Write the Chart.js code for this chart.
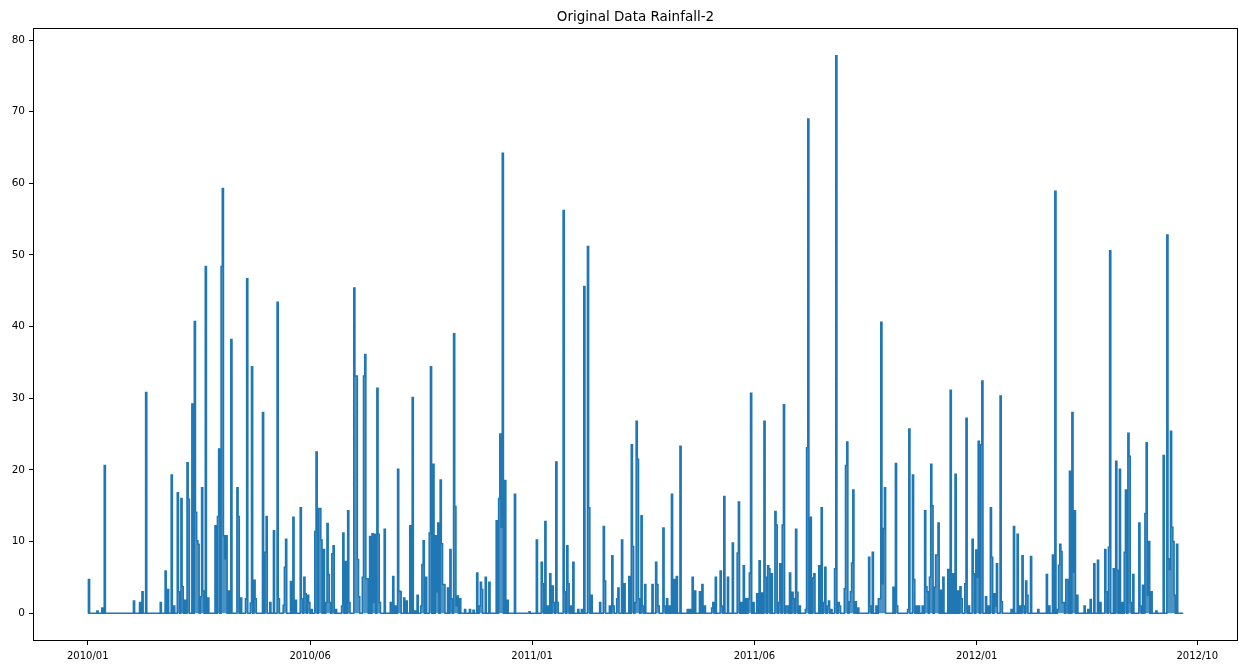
<!DOCTYPE html>
<html>
<head>
<meta charset="utf-8">
<script src="https://cdn.jsdelivr.net/npm/chart.js@4.4.1/dist/chart.umd.min.js"></script>
<style>
  html, body { margin: 0; padding: 0; background: #ffffff; }
  #wrap { width: 1239px; height: 667px; position: relative; }
</style>
</head>
<body>
<div id="wrap"><canvas id="c" width="1239" height="667"></canvas></div>
<script>
// Day index counted from 2010/01/01 (daily series, 0..900)
const dayCount = 901;
const chartTitle = 'Original Data Rainfall-2';
// Days with rainfall (index) and rainfall amount
const rainDay = [1,8,12,14,38,43,45,48,60,64,66,69,71,74,75,77,78,80,82,83,86,88,89,90,91,93,94,95,97,99,
105,107,108,110,111,112,113,114,116,118,123,124,126,130,131,134,135,137,138,144,146,147,150,153,156,157,161,162,163,167,
169,171,175,176,178,179,181,182,184,187,188,190,191,192,194,196,197,198,199,201,202,204,209,210,212,214,215,219,220,221,
222,223,226,227,228,229,230,232,234,235,236,238,239,240,244,249,251,253,255,256,257,260,262,265,267,269,271,274,275,276,
278,281,282,284,286,287,288,290,291,292,293,296,298,299,301,302,303,304,306,310,314,317,320,322,323,324,327,330,336,338,
339,340,341,343,345,351,363,369,373,374,376,378,380,382,383,385,386,391,392,394,395,397,399,403,406,408,411,412,414,421,
424,425,429,431,432,435,436,439,441,445,447,448,450,451,452,453,455,456,458,464,467,468,469,473,474,476,478,480,482,484,
487,493,495,497,499,503,505,507,513,514,516,520,521,523,526,530,534,535,537,539,541,543,544,545,547,550,552,554,556,557,
559,560,562,565,566,568,569,571,572,574,575,577,579,580,582,583,585,590,591,592,594,596,597,601,603,605,606,608,609,611,
614,615,617,618,622,623,624,626,627,628,629,631,633,642,643,645,648,650,651,652,653,654,655,662,664,665,674,675,678,679,
681,683,686,688,689,690,692,693,694,696,697,698,699,701,703,707,709,711,713,715,717,718,721,722,724,727,728,730,731,732,
734,735,738,740,742,743,745,746,747,750,751,759,761,764,766,768,769,771,772,775,781,788,790,793,795,797,798,799,800,801,
802,804,805,807,809,810,811,813,819,822,824,827,830,832,836,837,839,840,843,845,846,848,850,852,853,855,856,857,859,864,
865,867,869,870,871,872,874,878,884,887,888,889,890,891,892,893,895];
const rainMm = [4.7,0.3,0.7,20.6,1.7,1.5,3.0,30.8,1.5,5.9,3.3,19.3,1.0,16.8,3.0,16.0,3.7,1.8,21.0,15.9,29.2,40.7,14.1,10.1,9.6,2.3,17.5,3.1,48.4,2.1,
12.2,13.5,22.9,48.4,59.3,10.8,7.6,10.8,3.1,38.2,17.5,13.5,2.1,2.0,46.7,1.4,34.4,4.6,2.0,28.0,8.5,13.5,1.5,11.5,43.4,2.0,1.1,6.4,10.3,4.4,
13.4,1.8,14.7,2.0,5.0,2.7,2.5,1.5,0.5,11.4,22.5,14.6,14.6,10.2,8.9,1.5,12.5,5.4,1.5,8.3,9.4,0.5,1.0,11.2,7.2,14.3,1.5,45.4,33.1,33.1,
7.5,2.3,5.0,33.1,36.1,4.8,4.8,10.7,11.1,1.5,11.0,31.4,11.0,1.5,11.7,1.5,5.1,1.0,20.1,3.1,3.0,2.1,1.7,12.2,30.1,0.3,2.5,1.0,6.8,10.1,
5.0,11.2,34.4,20.8,10.8,3.0,12.6,18.6,9.7,4.0,4.0,3.5,8.9,2.0,39.0,14.9,1.0,2.4,2.0,0.5,0.5,0.4,5.6,1.0,4.3,3.3,5.0,4.3,12.9,16.0,
25.0,12.0,64.2,18.5,1.8,16.6,0.2,10.2,7.1,4.1,12.8,1.0,5.5,3.8,1.5,21.1,1.5,56.2,3.0,9.4,4.1,1.0,7.1,0.5,0.5,45.6,51.2,14.7,2.5,1.5,
12.1,4.5,1.0,8.0,1.0,2.0,3.5,10.2,4.1,5.1,23.5,9.3,1.5,26.8,21.5,2.0,13.6,1.0,4.0,4.0,7.1,4.0,1.0,11.9,1.0,2.0,1.0,16.6,4.7,5.1,
23.3,0.5,0.5,5.0,3.1,3.0,4.0,1.0,0.7,1.5,5.0,5.9,1.0,16.3,5.0,9.8,8.4,15.5,1.5,6.6,2.0,2.0,5.6,30.7,1.5,2.7,7.3,2.8,26.8,5.0,
6.6,6.2,5.5,14.2,12.3,1.5,6.9,12.3,29.1,1.0,1.0,5.6,2.9,2.0,11.7,2.9,1.0,0.5,23.1,69.0,13.4,4.9,5.5,6.6,14.7,1.5,6.4,1.0,1.7,0.5,
6.2,77.8,1.5,1.0,3.4,20.6,23.9,1.6,3.0,7.0,17.2,1.6,0.7,7.8,1.0,8.5,1.0,2.0,2.0,40.6,4.1,11.8,17.5,3.6,20.9,1.0,0.5,25.7,19.3,4.7,
1.0,1.0,1.0,14.3,3.7,3.0,5.0,20.8,15.0,3.6,8.1,8.1,12.6,3.2,5.0,6.1,31.1,5.5,19.4,3.1,3.7,2.0,4.1,27.2,1.0,10.3,5.5,8.8,5.0,24.0,
23.5,32.4,2.3,1.0,14.7,7.8,2.7,1.0,6.9,30.3,1.6,0.5,12.1,11.0,1.0,8.0,1.0,4.5,2.5,7.9,0.5,5.4,1.0,8.1,58.9,0.5,6.7,9.6,8.6,1.5,
1.5,4.7,4.7,19.8,28.0,5.7,14.3,2.5,1.0,0.5,1.9,6.9,7.4,1.5,8.9,3.0,9.2,50.6,6.2,21.2,6.0,20.1,1.5,8.5,17.2,25.1,21.9,1.5,5.4,12.6,
1.0,3.9,13.9,23.8,2.5,10.0,3.0,0.3,22.0,52.8,7.6,6.1,25.4,12.0,10.0,2.5,9.6];

const xTickDays = [0, 182.7, 365, 547.7, 730.3, 911.5];
const xTickLabels = ['2010/01', '2010/06', '2011/01', '2011/06', '2012/01', '2012/10'];
const yTickValues = [0, 10, 20, 30, 40, 50, 60, 70, 80];

// Build daily points: dry days stay at 0
const amounts = new Array(dayCount).fill(0);
rainDay.forEach((d, i) => { amounts[d] = rainMm[i]; });
const points = amounts.map((v, i) => ({ x: i, y: v }));

const maxVal = Math.max(...rainMm);
const yPad = maxVal * 0.05;
const xPad = (dayCount - 1) * 0.05;

const framePlugin = {
  id: 'frame',
  afterDatasetsDraw(chart) {
    const a = chart.chartArea, ctx = chart.ctx;
    ctx.save();
    ctx.strokeStyle = '#000';
    ctx.lineWidth = 1;
    ctx.strokeRect(Math.round(a.left) + 0.5, Math.round(a.top) + 0.5,
                   Math.round(a.right - a.left) - 1, Math.round(a.bottom - a.top) - 1);
    // title centred over the plot area (as matplotlib does)
    ctx.fillStyle = '#000';
    ctx.font = '13.5px "DejaVu Sans"';
    ctx.textAlign = 'center';
    ctx.textBaseline = 'middle';
    ctx.fillText(chartTitle, (a.left + a.right) / 2, a.top - 11);
    ctx.restore();
  }
};

new Chart(document.getElementById('c'), {
  type: 'line',
  data: {
    datasets: [{
      data: points,
      borderColor: '#1f77b4',
      backgroundColor: 'rgba(31,119,180,0.8)',
      borderWidth: 1.5,
      pointRadius: 0,
      stepped: 'middle',
      fill: 'origin'
    }]
  },
  options: {
    responsive: false,
    animation: false,
    layout: { padding: { left: 0, right: 1, top: 28, bottom: 0 } },
    plugins: {
      legend: { display: false },
      tooltip: { enabled: false },
      title: { display: false }
    },
    scales: {
      x: {
        type: 'linear',
        min: -xPad,
        max: dayCount - 1 + xPad,
        afterBuildTicks(scale) { scale.ticks = xTickDays.map(v => ({ value: v })); },
        afterFit(scale) { scale.height = 26; },
        ticks: {
          autoSkip: false,
          maxRotation: 0,
          color: '#000',
          padding: 5,
          font: { family: 'DejaVu Sans', size: 10 },
          callback: (v, i) => xTickLabels[i]
        },
        grid: { display: true, drawOnChartArea: false, drawTicks: true, tickLength: 4, color: '#000', lineWidth: 1 },
        border: { display: false }
      },
      y: {
        type: 'linear',
        min: -yPad,
        max: maxVal + yPad,
        afterBuildTicks(scale) { scale.ticks = yTickValues.map(v => ({ value: v })); },
        afterFit(scale) { scale.width = 33; },
        ticks: {
          color: '#000',
          padding: 4,
          font: { family: 'DejaVu Sans', size: 10.5 },
          callback: v => String(v)
        },
        grid: { display: true, drawOnChartArea: false, drawTicks: true, tickLength: 4, color: '#000', lineWidth: 1 },
        border: { display: false }
      }
    }
  },
  plugins: [framePlugin]
});
</script>
</body>
</html>
